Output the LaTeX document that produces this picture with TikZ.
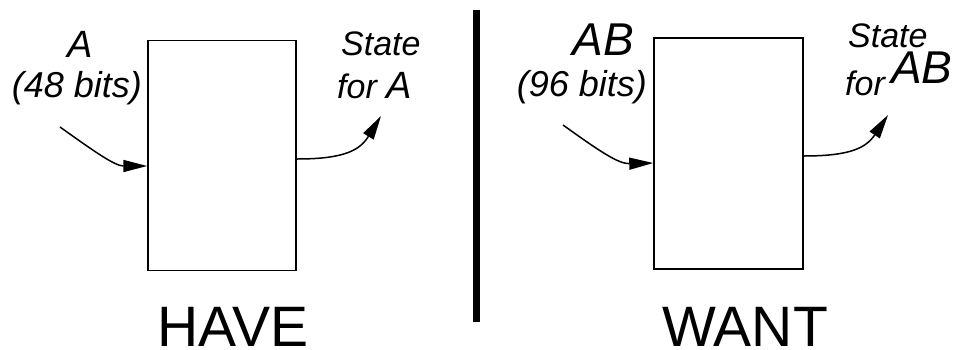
\documentclass[tikz,border=0pt]{standalone}
\usepackage{fontspec}
\setmainfont{Liberation Sans}
\usetikzlibrary{arrows.meta}
\tikzset{
  blk/.style={draw, line width=1.5pt, rectangle, inner sep=0pt},
  lbl/.style={inner sep=0pt, font=\itshape},
  big/.style={inner sep=0pt, font=\fontsize{57pt}{60pt}\selectfont},
  flow/.style={line width=1.5pt, -{Triangle[length=24pt,width=12pt]}}
}
\newcommand{\fs}[1]{\fontsize{#1pt}{#1pt}\selectfont}
\begin{document}
\begin{tikzpicture}[x=1pt,y=-1pt]
\useasboundingbox (0,0) rectangle (962,349);
% boxes
\node[blk, minimum width=148pt, minimum height=230pt] (boxL) at (222,155.7) {};
\node[blk, minimum width=149pt, minimum height=231pt] (boxR) at (728.5,153.5) {};
% divider
\node[fill=black, inner sep=0pt, minimum width=7pt, minimum height=312pt] (bar) at (476.5,166) {};
% left labels
\node[lbl, anchor=base, font=\itshape\fs{38}] (aL) at (80,57) {A};
\node[lbl, anchor=base, font=\itshape\fs{36}] (bitsL) at (77,97) {(48 bits)};
\node[lbl, anchor=base west, font=\itshape\fs{34}] (stL) at (341,55) {State};
\node[lbl, anchor=base west, font=\itshape\fs{34}] (forL) at (337,98) {for {\fs{38}A}};
% right labels
\node[lbl, anchor=base, font=\itshape\fs{46}] (aR) at (603,55) {AB};
\node[lbl, anchor=base, font=\itshape\fs{36}] (bitsR) at (582,96) {(96 bits)};
\node[lbl, anchor=base west, font=\itshape\fs{34}] (stR) at (848,47) {State};
\node[lbl, anchor=base west, font=\itshape\fs{34}] (forR) at (845,95) {for};
\node[lbl, anchor=base west, font=\itshape\fs{46}] (abR) at (891,83) {AB};
% titles
\node[big, anchor=base] (have) at (233,346) {HAVE};
\node[big, anchor=base] (want) at (745,346) {WANT};
% connectors
\coordinate (inL) at (60,127);
\coordinate (outL) at (381,116);
\coordinate (inR) at (563,125);
\coordinate (outR) at (888,115);
\draw[flow] (inL) .. controls (95,152) and (115,166) .. (boxL.west |- 0,166);
\draw[flow] (boxL.east |- 0,159) .. controls (345,159) and (360,150) .. (outL);
\draw[flow] (inR) .. controls (598,150) and (618,164) .. (boxR.west |- 0,163);
\draw[flow] (boxR.east |- 0,156) .. controls (850,156) and (866,148) .. (outR);
\end{tikzpicture}
\end{document}
